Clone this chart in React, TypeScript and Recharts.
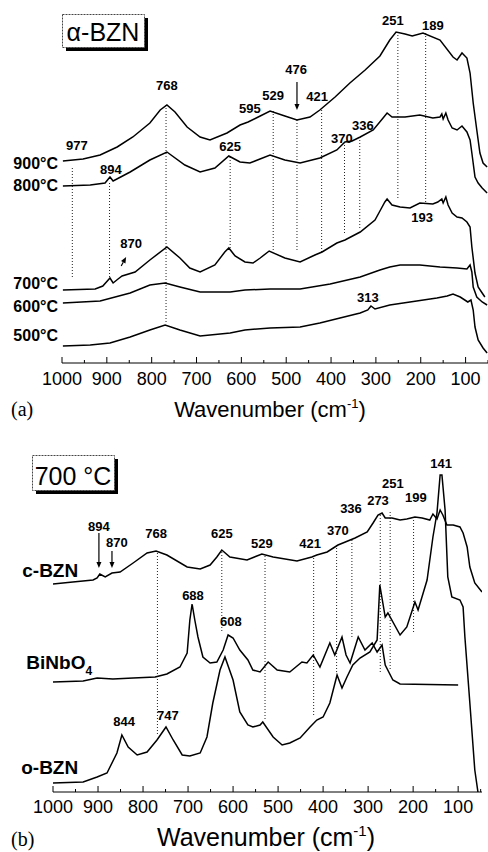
import { LineChart, Line, XAxis, YAxis, ReferenceLine, ReferenceDot } from 'recharts';

const FONT = '"Liberation Sans", Arial, sans-serif';

// ---------- panel (a): alpha-BZN, annealing temperature series ----------
const w900 = [998, 953, 915, 877, 842, 804, 781, 766, 748, 721, 692, 670, 632, 603, 585, 558, 536, 503, 476, 447, 425, 391, 358, 324, 291, 269, 255, 235, 219, 195, 157, 128, 119, 108, 97, 90, 83, 75, 68, 61, 52];
const i900 = [202, 204, 208, 216, 226, 240, 253, 258, 251, 236, 226, 223, 230, 238, 241, 247, 252, 247, 243, 246, 253, 266, 280, 293, 307, 323, 331, 329, 327, 330, 323, 306, 303, 310, 305, 290, 260, 233, 210, 200, 196];

const w800 = [998, 937, 904, 893, 886, 848, 804, 766, 726, 692, 659, 628, 603, 581, 536, 503, 469, 425, 387, 369, 353, 335, 306, 284, 275, 264, 235, 202, 173, 157, 153, 150, 144, 139, 130, 119, 108, 97, 90, 86, 79, 72, 63, 52];
const i800 = [177, 178, 180, 186, 182, 191, 203, 211, 198, 191, 195, 207, 201, 200, 208, 203, 200, 205, 213, 221, 222, 226, 233, 245, 250, 246, 246, 248, 245, 246, 249, 244, 250, 243, 235, 233, 237, 231, 223, 210, 186, 180, 175, 170];

const w700 = [998, 926, 909, 893, 886, 875, 866, 837, 804, 766, 737, 715, 692, 659, 637, 628, 614, 592, 574, 558, 538, 503, 469, 436, 420, 387, 369, 335, 302, 291, 280, 275, 264, 246, 224, 202, 173, 162, 153, 150, 144, 139, 130, 119, 108, 97, 90, 86, 79, 72, 63, 57];
const i700 = [73, 74, 77, 85, 80, 84, 87, 91, 103, 116, 105, 95, 91, 98, 111, 115, 107, 101, 100, 105, 112, 105, 101, 108, 111, 120, 123, 131, 143, 152, 161, 164, 158, 156, 155, 160, 159, 161, 164, 160, 166, 158, 150, 146, 145, 141, 136, 116, 90, 76, 70, 66];

const w600 = [998, 915, 848, 804, 770, 737, 692, 625, 592, 536, 469, 402, 335, 291, 269, 246, 202, 157, 119, 97, 90, 86, 83, 75, 63, 52];
const i600 = [60, 62, 70, 78, 80, 76, 71, 71, 73, 74, 74, 79, 86, 93, 96, 98, 98, 96, 95, 94, 98, 91, 76, 66, 61, 58];

const w500 = [998, 937, 893, 848, 804, 770, 737, 692, 625, 592, 536, 469, 425, 380, 335, 318, 311, 302, 269, 224, 164, 141, 128, 112, 95, 88, 83, 79, 72, 61, 52];
const i500 = [17, 18, 20, 26, 33, 38, 33, 27, 30, 33, 35, 36, 40, 45, 50, 53, 57, 54, 58, 61, 65, 67, 69, 66, 61, 63, 53, 36, 23, 15, 10];

const namesA = ['900°C', '800°C', '700°C', '600°C', '500°C'];
const nameLevelA = [200, 178, 80, 57, 28];

const markA = [977, 894, 768, 625, 529, 476, 421, 370, 336, 251, 189];
const markTopA = [195, 180, 258, 206, 252, 243, 253, 221, 226, 331, 330];
const markBotA = [85, 85, 40, 115, 111, 113, 111, 130, 135, 163, 160];

const peakTextA = ['977', '894', '768', '595', '625', '529', '476', '421', '370', '336', '251', '189', '193', '313', '870'];
const peakWA = [967, 891, 766, 581, 625, 529, 478, 431, 376, 329, 262, 173, 197, 318, 846];
const peakIA = [218, 194, 278, 255, 217, 268, 294, 267, 225, 238, 343, 338, 146, 66, 120];

const arrowWA = [[476, 476], [868, 857]];
const arrowIA = [[281, 253], [97, 106]];

// ---------- panel (b): 700 C, c-BZN vs BiNbO4 vs o-BZN ----------
const wCB = [1000, 956, 911, 902, 896, 884, 869, 851, 822, 791, 771, 747, 702, 673, 651, 636, 625, 607, 569, 536, 511, 458, 425, 414, 391, 367, 356, 329, 302, 289, 278, 269, 262, 247, 229, 214, 196, 180, 163, 156, 147, 140, 134, 125, 111, 96, 89, 80, 74, 63, 47];
const iCB = [208, 210, 212, 214, 218, 215, 219, 220, 229, 239, 241, 237, 225, 223, 227, 235, 242, 235, 232, 238, 235, 231, 235, 237, 240, 247, 249, 254, 260, 269, 277, 279, 274, 274, 272, 273, 275, 274, 272, 278, 273, 282, 277, 267, 267, 265, 259, 245, 225, 209, 200];

const wBN = [1000, 933, 902, 867, 822, 773, 747, 718, 702, 696, 691, 685, 678, 667, 651, 636, 622, 611, 600, 585, 567, 556, 540, 522, 502, 474, 447, 436, 422, 407, 385, 374, 358, 349, 340, 322, 307, 291, 280, 269, 262, 245, 229, 100];
const iBN = [110, 111, 114, 113, 114, 115, 118, 125, 139, 172, 188, 172, 155, 135, 129, 130, 142, 157, 154, 142, 132, 122, 120, 130, 122, 120, 130, 129, 137, 125, 149, 137, 155, 137, 129, 155, 142, 149, 140, 147, 127, 112, 108, 107];

const wOB = [1000, 933, 902, 880, 858, 847, 833, 813, 791, 769, 749, 733, 713, 696, 673, 658, 645, 629, 618, 600, 585, 567, 556, 540, 534, 511, 491, 474, 451, 429, 414, 400, 385, 369, 358, 347, 334, 318, 296, 280, 274, 262, 256, 229, 214, 196, 189, 169, 156, 147, 140, 136, 129, 123, 114, 96, 89, 85, 74, 63, 56];
const iOB = [9, 10, 15, 19, 39, 57, 45, 37, 40, 52, 65, 52, 37, 36, 39, 55, 89, 122, 135, 112, 80, 67, 65, 67, 70, 55, 47, 49, 54, 65, 72, 75, 89, 117, 104, 115, 127, 134, 140, 152, 207, 175, 179, 157, 165, 190, 182, 212, 255, 279, 317, 317, 282, 215, 195, 192, 185, 155, 89, 22, 0];

const namesB = ['c-BZN', 'BiNbO', 'o-BZN'];
const nameWB = [944, 913, 944];
const nameLevelB = [222, 129, 25];

const markB = [768, 625, 529, 421, 370, 336, 273, 251, 199];
const markTopB = [239, 240, 236, 234, 247, 252, 277, 280, 275];
const markBotB = [57, 159, 72, 77, 119, 155, 119, 122, 159];

const peakTextB = ['894', '870', '768', '625', '688', '608', '529', '421', '370', '336', '273', '251', '199', '141', '844', '747'];
const peakWB = [898, 858, 771, 625, 689, 605, 536, 429, 367, 338, 278, 245, 194, 138, 842, 745];
const peakIB = [266, 250, 259, 259, 197, 171, 249, 249, 262, 284, 292, 309, 295, 329, 71, 77];

const arrowWB = [[898, 898], [869, 869]];
const arrowIB = [[259, 224], [241, 224]];

const axisTicks = [50, 100, 150, 200, 250, 300, 350, 400, 450, 500, 550, 600, 650, 700, 750, 800, 850, 900, 950, 1000];

const toPts = (ws: number[], is: number[]) => ws.map((w, k) => ({ w, v: is[k] }));

const makeTick = (fontSize: number, dy: number) => (props: any) => {
  const { x, y, payload } = props;
  const major = payload.value % 100 === 0;
  return (
    <g>
      <line x1={x} x2={x} y1={y} y2={y - (major ? 6 : 3)} stroke="#000" strokeWidth={1} />
      {major ? (
        <text x={x} y={y + dy} textAnchor="middle" fontSize={fontSize} fontFamily={FONT} fill="#000">
          {payload.value}
        </text>
      ) : null}
    </g>
  );
};

const arrowShape = (p: any) => {
  const { x1, y1, x2, y2 } = p;
  const ang = Math.atan2(y2 - y1, x2 - x1);
  const bx = x2 - 6 * Math.cos(ang);
  const by = y2 - 6 * Math.sin(ang);
  const px = -Math.sin(ang) * 2.5;
  const py = Math.cos(ang) * 2.5;
  return (
    <g>
      <line x1={x1} y1={y1} x2={bx} y2={by} stroke="#000" strokeWidth={1.2} />
      <polygon points={`${x2},${y2} ${bx + px},${by + py} ${bx - px},${by - py}`} fill="#000" />
    </g>
  );
};

const peakLabel = (text: string) => ({
  value: text,
  position: 'center' as const,
  fill: '#000',
  fontSize: 13,
  fontWeight: 700,
  fontFamily: FONT,
});

const subLabel = (p: any) => {
  const vb = p.viewBox || {};
  return (
    <text x={vb.x} y={vb.y + 6} textAnchor="end" fontSize={19} fontWeight={700} fontFamily={FONT} fill="#000">
      BiNbO
      <tspan dy={6} fontSize={12}>4</tspan>
    </text>
  );
};

export default function App() {
  const linesA = [toPts(w900, i900), toPts(w800, i800), toPts(w700, i700), toPts(w600, i600), toPts(w500, i500)];
  const linesB = [toPts(wCB, iCB), toPts(wBN, iBN), toPts(wOB, iOB)];

  return (
    <div style={{ position: 'absolute', left: 0, top: 0, width: 488, height: 852, background: '#fff' }}>
      <div style={{ position: 'absolute', left: 0, top: 0 }}>
        <LineChart width={488} height={425} margin={{ top: 10, right: 0, bottom: 32, left: 62 }}>
          <XAxis
            dataKey="w"
            type="number"
            domain={[50, 1000]}
            reversed
            allowDataOverflow
            ticks={axisTicks}
            interval={0}
            height={30}
            tickSize={0}
            tickMargin={0}
            tickLine={false}
            axisLine={{ stroke: '#000', strokeWidth: 1 }}
            tick={makeTick(18, 22)}
          />
          <YAxis hide type="number" domain={[0, 353]} allowDataOverflow />
          {markA.map((w, k) => (
            <ReferenceLine
              key={`ma${k}`}
              segment={[{ x: w, y: markTopA[k] }, { x: w, y: markBotA[k] }]}
              stroke="#222"
              strokeWidth={1}
              strokeDasharray="1 2"
            />
          ))}
          {linesA.map((d, k) => (
            <Line
              key={`la${k}`}
              data={d}
              dataKey="v"
              type="linear"
              dot={false}
              stroke="#000"
              strokeWidth={1.5}
              isAnimationActive={false}
            />
          ))}
          {arrowWA.map((ws, k) => (
            <ReferenceLine
              key={`aa${k}`}
              segment={[{ x: ws[0], y: arrowIA[k][0] }, { x: ws[1], y: arrowIA[k][1] }]}
              shape={arrowShape}
            />
          ))}
          {peakTextA.map((t, k) => (
            <ReferenceDot key={`pa${k}`} x={peakWA[k]} y={peakIA[k]} r={0} fill="none" stroke="none" label={peakLabel(t)} />
          ))}
          {namesA.map((n, k) => (
            <ReferenceDot
              key={`na${k}`}
              x={1000}
              y={nameLevelA[k]}
              r={0}
              fill="none"
              stroke="none"
              ifOverflow="visible"
              label={{ value: n, position: 'left', offset: 4, fill: '#000', fontSize: 16, fontWeight: 700, fontFamily: FONT }}
            />
          ))}
        </LineChart>
      </div>

      <div style={{ position: 'absolute', left: 0, top: 430 }}>
        <LineChart width={488} height={422} margin={{ top: 20, right: 6, bottom: 30, left: 53 }}>
          <XAxis
            dataKey="w"
            type="number"
            domain={[47, 1000]}
            reversed
            allowDataOverflow
            ticks={axisTicks}
            interval={0}
            height={30}
            tickSize={0}
            tickMargin={0}
            tickLine={false}
            axisLine={{ stroke: '#000', strokeWidth: 1 }}
            tick={makeTick(18, 21)}
          />
          <YAxis hide type="number" domain={[0, 342]} allowDataOverflow />
          {markB.map((w, k) => (
            <ReferenceLine
              key={`mb${k}`}
              segment={[{ x: w, y: markTopB[k] }, { x: w, y: markBotB[k] }]}
              stroke="#222"
              strokeWidth={1}
              strokeDasharray="1 2"
            />
          ))}
          {linesB.map((d, k) => (
            <Line
              key={`lb${k}`}
              data={d}
              dataKey="v"
              type="linear"
              dot={false}
              stroke="#000"
              strokeWidth={1.5}
              isAnimationActive={false}
            />
          ))}
          {arrowWB.map((ws, k) => (
            <ReferenceLine
              key={`ab${k}`}
              segment={[{ x: ws[0], y: arrowIB[k][0] }, { x: ws[1], y: arrowIB[k][1] }]}
              shape={arrowShape}
            />
          ))}
          {peakTextB.map((t, k) => (
            <ReferenceDot key={`pb${k}`} x={peakWB[k]} y={peakIB[k]} r={0} fill="none" stroke="none" label={peakLabel(t)} />
          ))}
          {namesB.map((n, k) => (
            <ReferenceDot
              key={`nb${k}`}
              x={nameWB[k]}
              y={nameLevelB[k]}
              r={0}
              fill="none"
              stroke="none"
              ifOverflow="visible"
              label={
                n === 'BiNbO'
                  ? { content: subLabel }
                  : { value: n, position: 'left', offset: 0, fill: '#000', fontSize: 19, fontWeight: 700, fontFamily: FONT }
              }
            />
          ))}
        </LineChart>
      </div>

      <svg
        width={488}
        height={852}
        style={{ position: 'absolute', left: 0, top: 0, pointerEvents: 'none' }}
      >
        <rect x={66} y={18} width={82} height={33} fill="#000" />
        <rect x={62.5} y={14.5} width={82} height={33} fill="#fff" stroke="#444" strokeWidth={1} strokeDasharray="2 1" />
        <text x={103} y={41} textAnchor="middle" fontSize={25} fontFamily={FONT} fill="#000">α-BZN</text>

        <rect x={36} y={459} width={82} height={35} fill="#000" />
        <rect x={32.5} y={455.5} width={82} height={35} fill="#fff" stroke="#444" strokeWidth={1} strokeDasharray="2 1" />
        <text x={73} y={485} textAnchor="middle" fontSize={25} fontFamily={FONT} fill="#000">700 °C</text>

        <text x={270} y={417} textAnchor="middle" fontSize={22} fontFamily={FONT} fill="#000">
          Wavenumber (cm<tspan dy={-9} fontSize={13}>-1</tspan><tspan dy={9}>)</tspan>
        </text>
        <text x={266} y={846} textAnchor="middle" fontSize={25} fontFamily={FONT} fill="#000">
          Wavenumber (cm<tspan dy={-10} fontSize={15}>-1</tspan><tspan dy={10}>)</tspan>
        </text>

        <text x={11} y={416} fontSize={20} fontFamily='"Liberation Serif", "Times New Roman", serif' fill="#000">(a)</text>
        <text x={11} y={846} fontSize={20} fontFamily='"Liberation Serif", "Times New Roman", serif' fill="#000">(b)</text>
      </svg>
    </div>
  );
}
